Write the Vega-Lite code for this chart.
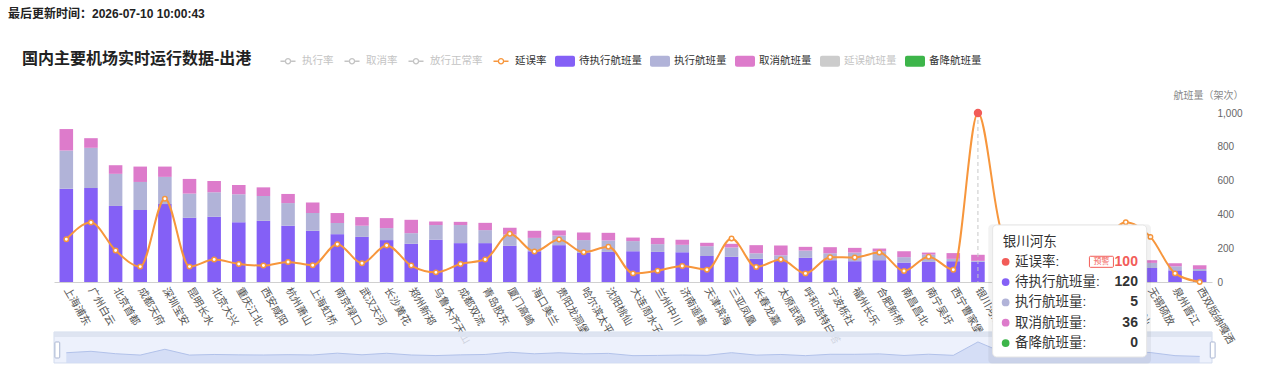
{
  "$schema": "https://vega.github.io/schema/vega-lite/v6.json",
  "background": "white",
  "padding": {"left": 8, "top": 8, "right": 0, "bottom": 0},
  "title": {"text": "最后更新时间：2026-07-10 10:00:43", "anchor": "start", "frame": "bounds", "fontSize": 12, "fontWeight": 600, "color": "#222222", "dx": -14, "offset": 30},
  "width": 1158,
  "height": 169,
  "data": {"name": "airports"},
  "datasets": {
    "airports": [
      {"airport": "上海浦东", "pending": 552, "executed": 226, "cancelled": 127, "delay": 25.3},
      {"airport": "广州白云", "pending": 556, "executed": 238, "cancelled": 57, "delay": 35.2},
      {"airport": "北京首都", "pending": 450, "executed": 190, "cancelled": 51, "delay": 18.6},
      {"airport": "成都天府", "pending": 426, "executed": 166, "cancelled": 91, "delay": 9.1},
      {"airport": "深圳宝安", "pending": 461, "executed": 161, "cancelled": 61, "delay": 49.3},
      {"airport": "昆明长水", "pending": 380, "executed": 143, "cancelled": 87, "delay": 9.1},
      {"airport": "北京大兴", "pending": 386, "executed": 145, "cancelled": 67, "delay": 13.3},
      {"airport": "重庆江北", "pending": 354, "executed": 165, "cancelled": 55, "delay": 10.7},
      {"airport": "西安咸阳", "pending": 362, "executed": 147, "cancelled": 51, "delay": 9.7},
      {"airport": "杭州萧山", "pending": 333, "executed": 134, "cancelled": 54, "delay": 11.9},
      {"airport": "上海虹桥", "pending": 303, "executed": 105, "cancelled": 63, "delay": 9.9},
      {"airport": "南京禄口", "pending": 283, "executed": 66, "cancelled": 59, "delay": 22.4},
      {"airport": "武汉天河", "pending": 267, "executed": 66, "cancelled": 51, "delay": 11.1},
      {"airport": "长沙黄花", "pending": 248, "executed": 71, "cancelled": 59, "delay": 21.6},
      {"airport": "郑州新郑", "pending": 226, "executed": 63, "cancelled": 79, "delay": 9.7},
      {"airport": "乌鲁木齐天山", "pending": 250, "executed": 87, "cancelled": 21, "delay": 5.7},
      {"airport": "成都双流", "pending": 230, "executed": 107, "cancelled": 19, "delay": 10.7},
      {"airport": "青岛胶东", "pending": 230, "executed": 77, "cancelled": 43, "delay": 13.3},
      {"airport": "厦门高崎", "pending": 214, "executed": 67, "cancelled": 40, "delay": 28.5},
      {"airport": "海口美兰", "pending": 182, "executed": 79, "cancelled": 42, "delay": 18.0},
      {"airport": "贵阳龙洞堡", "pending": 218, "executed": 57, "cancelled": 30, "delay": 25.1},
      {"airport": "哈尔滨太平", "pending": 172, "executed": 76, "cancelled": 45, "delay": 17.6},
      {"airport": "沈阳桃仙", "pending": 178, "executed": 68, "cancelled": 45, "delay": 20.8},
      {"airport": "大连周水子", "pending": 182, "executed": 60, "cancelled": 21, "delay": 5.1},
      {"airport": "兰州中川", "pending": 178, "executed": 46, "cancelled": 37, "delay": 6.7},
      {"airport": "济南遥墙", "pending": 176, "executed": 44, "cancelled": 30, "delay": 9.5},
      {"airport": "天津滨海", "pending": 154, "executed": 58, "cancelled": 20, "delay": 7.3},
      {"airport": "三亚凤凰", "pending": 149, "executed": 55, "cancelled": 22, "delay": 25.7},
      {"airport": "长春龙嘉", "pending": 137, "executed": 33, "cancelled": 48, "delay": 8.9},
      {"airport": "太原武宿", "pending": 129, "executed": 29, "cancelled": 58, "delay": 13.3},
      {"airport": "呼和浩特白塔", "pending": 143, "executed": 43, "cancelled": 22, "delay": 5.1},
      {"airport": "宁波栎社", "pending": 129, "executed": 41, "cancelled": 36, "delay": 14.7},
      {"airport": "福州长乐", "pending": 123, "executed": 51, "cancelled": 28, "delay": 14.5},
      {"airport": "合肥新桥", "pending": 129, "executed": 53, "cancelled": 16, "delay": 17.4},
      {"airport": "南昌昌北", "pending": 115, "executed": 32, "cancelled": 35, "delay": 6.5},
      {"airport": "南宁吴圩", "pending": 119, "executed": 43, "cancelled": 12, "delay": 15.0},
      {"airport": "西宁曹家堡", "pending": 123, "executed": 14, "cancelled": 34, "delay": 7.3},
      {"airport": "银川河东", "pending": 120, "executed": 5, "cancelled": 36, "delay": 100, "diverted": 0},
      {"airport": "温州龙湾", "pending": 112, "executed": 24, "cancelled": 18, "delay": 28},
      {"airport": "珠海金湾", "pending": 106, "executed": 22, "cancelled": 20, "delay": 15},
      {"airport": "石家庄正定", "pending": 102, "executed": 26, "cancelled": 14, "delay": 10},
      {"airport": "烟台蓬莱", "pending": 98, "executed": 20, "cancelled": 18, "delay": 14},
      {"airport": "桂林两江", "pending": 92, "executed": 22, "cancelled": 14, "delay": 22},
      {"airport": "揭阳潮汕", "pending": 88, "executed": 24, "cancelled": 16, "delay": 35.4},
      {"airport": "无锡硕放", "pending": 83, "executed": 30, "cancelled": 16, "delay": 26.7},
      {"airport": "泉州晋江", "pending": 69, "executed": 24, "cancelled": 18, "delay": 5.1},
      {"airport": "西双版纳嘎洒", "pending": 65, "executed": 12, "cancelled": 22, "delay": 0}
    ]
  },
  "layer": [
    {
      "transform": [
        {"fold": ["pending", "executed", "cancelled"], "as": ["key", "count"]},
        {"calculate": "{'pending': '待执行航班量', 'executed': '执行航班量', 'cancelled': '取消航班量'}[datum.key]", "as": "type"},
        {"calculate": "indexof(['pending', 'executed', 'cancelled'], datum.key)", "as": "ord"}
      ],
      "mark": {"type": "bar"},
      "encoding": {
        "x": {
          "field": "airport", "type": "nominal", "sort": null,
          "scale": {"paddingInner": 0.45, "paddingOuter": 0.225},
          "axis": {"title": null, "labelAngle": 60, "labelAlign": "left", "labelBaseline": "middle", "labelPadding": 6, "labelFontSize": 10.5, "labelColor": "#555555", "labelOverlap": false, "labelBound": false, "ticks": false, "domain": true, "domainColor": "#d0d0d0", "grid": false, "zindex": 0}
        },
        "y": {
          "field": "count", "type": "quantitative", "stack": "zero",
          "scale": {"domain": [0, 1000]},
          "axis": {"orient": "right", "values": [0, 200, 400, 600, 800, 1000], "format": ",.0f", "domain": false, "ticks": false, "grid": false, "labelFontSize": 10, "labelColor": "#666666", "labelPadding": 5, "title": "航班量（架次）", "titleAngle": 0, "titleX": -4, "titleY": -18, "titleAlign": "center", "titleBaseline": "middle", "titleFontSize": 10, "titleFontWeight": "normal", "titleColor": "#888888"}
        },
        "color": {
          "field": "type", "type": "nominal",
          "scale": {
            "domain": ["执行率", "取消率", "放行正常率", "延误率", "待执行航班量", "执行航班量", "取消航班量", "延误航班量", "备降航班量"],
            "range": ["#c4c4c4", "#c4c4c4", "#c4c4c4", "#F7963C", "#8460F6", "#B1B3D8", "#DD7BCB", "#cccccc", "#3DB54A"]
          },
          "legend": {
            "orient": "none", "legendX": -32, "legendY": -62,
            "direction": "horizontal", "columns": 9,
            "title": "国内主要机场实时运行数据-出港", "titleOrient": "left", "titleFontSize": 16, "titleFontWeight": "bold", "titleColor": "#222222", "titlePadding": 26, "titleBaseline": "middle", "titleLimit": 400,
            "labelFontSize": 10.5, "labelColor": "#333333", "labelOffset": 4,
            "symbolSize": 400, "columnPadding": 8, "symbolStrokeWidth": 0,
            "symbolType": {"expr": "indexof(['执行率','取消率','放行正常率','延误率'], datum.value) >= 0 ? 'M-0.75,-0.075H-0.33V0.075H-0.75ZM0.33,-0.075H0.75V0.075H0.33ZM-0.33,0A0.33,0.33 0 1,1 0.33,0A0.33,0.33 0 1,1 -0.33,0ZM-0.19,0A0.19,0.19 0 1,0 0.19,0A0.19,0.19 0 1,0 -0.19,0Z' : 'M-0.8,-0.55H0.8A0.2,0.2 0 0 1 1,-0.35V0.35A0.2,0.2 0 0 1 0.8,0.55H-0.8A0.2,0.2 0 0 1 -1,0.35V-0.35A0.2,0.2 0 0 1 -0.8,-0.55Z'"},
            "encode": {
              "labels": {"update": {
                "fill": {"signal": "indexof(['执行率','取消率','放行正常率','延误航班量'], datum.label) >= 0 ? '#c4c4c4' : '#333333'"}
              }}
            }
          }
        },
        "order": {"field": "ord", "type": "quantitative"}
      }
    },
    {
      "transform": [{"filter": "datum.airport == '银川河东'"}],
      "mark": {"type": "rule", "strokeDash": [4, 3], "color": "#c8c8c8", "strokeWidth": 1},
      "encoding": {"x": {"field": "airport", "type": "nominal", "sort": null}}
    },
    {
      "layer": [
        {
          "mark": {"type": "line", "interpolate": "monotone", "color": "#F7963C", "strokeWidth": 2},
          "encoding": {
            "x": {"field": "airport", "type": "nominal", "sort": null},
            "y": {
              "field": "delay", "type": "quantitative", "scale": {"domain": [0, 100]},
              "axis": {"orient": "left", "values": [0, 20, 40, 60, 80, 100], "domain": false, "ticks": false, "grid": false, "labelFontSize": 10, "labelColor": "#666666", "labelPadding": 10, "title": "(%)", "titleAngle": 0, "titleX": 0, "titleY": -18, "titleAlign": "center", "titleBaseline": "middle", "titleFontSize": 10, "titleFontWeight": "normal", "titleColor": "#888888"}
            }
          }
        },
        {
          "transform": [{"filter": "datum.airport != '银川河东'"}],
          "mark": {"type": "point", "shape": "circle", "fill": "white", "stroke": "#F7963C", "strokeWidth": 1.5, "size": 20, "opacity": 1},
          "encoding": {
            "x": {"field": "airport", "type": "nominal", "sort": null},
            "y": {"field": "delay", "type": "quantitative", "axis": null}
          }
        },
        {
          "transform": [{"filter": "datum.airport == '银川河东'"}],
          "mark": {"type": "circle", "color": "#F25C58", "size": 70, "opacity": 1},
          "encoding": {
            "x": {"field": "airport", "type": "nominal", "sort": null},
            "y": {"field": "delay", "type": "quantitative", "axis": null}
          }
        }
      ]
    },
    {
      "layer": [
        {
          "data": {"values": [{}]},
          "mark": {"type": "rect", "fill": "#e9eefb", "fillOpacity": 0.82, "stroke": "#d3dcee", "strokeWidth": 1},
          "encoding": {
            "y": {"datum": 169, "type": "quantitative", "scale": {"domain": [515.2, 1685.6], "zero": false, "nice": false}, "axis": null},
            "y2": {"datum": -45.7}
          }
        },
        {
          "data": {"values": [{}]},
          "mark": {"type": "rect", "fill": "#dbe2f0", "fillOpacity": 0.9},
          "encoding": {
            "y": {"datum": 169, "type": "quantitative"},
            "y2": {"datum": 134.3}
          }
        },
        {
          "mark": {"type": "area", "interpolate": "linear", "fill": "#d2dcf5", "fillOpacity": 0.9, "line": {"stroke": "#b2c2ea", "strokeWidth": 1}},
          "encoding": {
            "x": {"field": "airport", "type": "nominal", "sort": null},
            "y": {"field": "delay", "type": "quantitative"},
            "y2": {"datum": -45.7}
          }
        },
        {
          "transform": [{"filter": "datum.airport == '上海浦东'"}],
          "mark": {"type": "point", "shape": "M-0.3,-0.9A0.1,0.1 0 0 1 -0.2,-1H0.2A0.1,0.1 0 0 1 0.3,-0.9V0.9A0.1,0.1 0 0 1 0.2,1H-0.2A0.1,0.1 0 0 1 -0.3,0.9Z", "size": 256, "fill": "white", "stroke": "#aab6d2", "strokeWidth": 1, "opacity": 1, "xOffset": -9},
          "encoding": {
            "x": {"field": "airport", "type": "nominal", "sort": null},
            "y": {"datum": 44.3, "type": "quantitative"}
          }
        },
        {
          "transform": [{"filter": "datum.airport == '西双版纳嘎洒'"}],
          "mark": {"type": "point", "shape": "M-0.3,-0.9A0.1,0.1 0 0 1 -0.2,-1H0.2A0.1,0.1 0 0 1 0.3,-0.9V0.9A0.1,0.1 0 0 1 0.2,1H-0.2A0.1,0.1 0 0 1 -0.3,0.9Z", "size": 256, "fill": "white", "stroke": "#aab6d2", "strokeWidth": 1, "opacity": 1, "xOffset": 13},
          "encoding": {
            "x": {"field": "airport", "type": "nominal", "sort": null},
            "y": {"datum": 44.3, "type": "quantitative"}
          }
        }
      ]
    },
    {
      "transform": [{"filter": "datum.airport == '银川河东'"}],
      "layer": [
        {
          "mark": {"type": "point", "shape": "M-0.948,-0.857H0.948A0.052,0.052 0 0 1 1,-0.805V0.805A0.052,0.052 0 0 1 0.948,0.857H-0.948A0.052,0.052 0 0 1 -1,0.805V-0.805A0.052,0.052 0 0 1 -0.948,-0.857Z", "size": 26500, "filled": true, "color": "#000000", "opacity": 0.05, "xOffset": 91.7, "yOffset": 3},
          "encoding": {
            "x": {"field": "airport", "type": "nominal", "sort": null},
            "y": {"datum": 2.438, "type": "quantitative", "scale": {"domain": [-6.33, 1.995], "reverse": true, "zero": false, "nice": false}, "axis": null}
          }
        },
        {
          "mark": {"type": "point", "shape": "M-0.948,-0.857H0.948A0.052,0.052 0 0 1 1,-0.805V0.805A0.052,0.052 0 0 1 0.948,0.857H-0.948A0.052,0.052 0 0 1 -1,0.805V-0.805A0.052,0.052 0 0 1 -0.948,-0.857Z", "size": 23716, "fill": "white", "stroke": "#e6e6e6", "strokeWidth": 1, "opacity": 1, "fillOpacity": 1, "xOffset": 91.7},
          "encoding": {
            "x": {"field": "airport", "type": "nominal", "sort": null},
            "y": {"datum": 2.438, "type": "quantitative"}
          }
        },
        {
          "mark": {"type": "text", "align": "left", "baseline": "middle", "fontSize": 13.5, "color": "#333333", "dx": 24.7},
          "encoding": {
            "x": {"field": "airport", "type": "nominal", "sort": null},
            "y": {"datum": 0, "type": "quantitative"},
            "text": {"field": "airport"}
          }
        },
        {
          "transform": [
            {"fold": ["delay", "pending", "executed", "cancelled", "diverted"], "as": ["tkey", "tval"]},
            {"calculate": "indexof(['delay', 'pending', 'executed', 'cancelled', 'diverted'], datum.tkey) + 1", "as": "row"},
            {"calculate": "{'delay': '延误率:', 'pending': '待执行航班量:', 'executed': '执行航班量:', 'cancelled': '取消航班量:', 'diverted': '备降航班量:'}[datum.tkey]", "as": "tlabel"}
          ],
          "layer": [
            {
              "mark": {"type": "circle", "size": 60, "opacity": 1, "xOffset": 27.7},
              "encoding": {
                "x": {"field": "airport", "type": "nominal", "sort": null},
                "y": {"field": "row", "type": "quantitative"},
                "fill": {"field": "tkey", "type": "nominal", "scale": {"domain": ["delay", "pending", "executed", "cancelled", "diverted"], "range": ["#F25C58", "#8460F6", "#B1B3D8", "#DD7BCB", "#3DB54A"]}, "legend": null}
              }
            },
            {
              "mark": {"type": "text", "align": "left", "baseline": "middle", "fontSize": 13.5, "color": "#333333", "dx": 37},
              "encoding": {
                "x": {"field": "airport", "type": "nominal", "sort": null},
                "y": {"field": "row", "type": "quantitative"},
                "text": {"field": "tlabel"}
              }
            },
            {
              "mark": {"type": "text", "align": "right", "baseline": "middle", "fontSize": 14, "fontWeight": "bold", "dx": 160},
              "encoding": {
                "x": {"field": "airport", "type": "nominal", "sort": null},
                "y": {"field": "row", "type": "quantitative"},
                "text": {"field": "tval", "type": "quantitative", "format": "d"},
                "color": {"condition": {"test": "datum.tkey == 'delay'", "value": "#F25C58"}, "value": "#333333"}
              }
            },
            {
              "transform": [{"filter": "datum.tkey == 'delay'"}],
              "mark": {"type": "point", "shape": "M-0.92,-0.46H0.92A0.08,0.08 0 0 1 1,-0.38V0.38A0.08,0.08 0 0 1 0.92,0.46H-0.92A0.08,0.08 0 0 1 -1,0.38V-0.38A0.08,0.08 0 0 1 -0.92,-0.46Z", "size": 576, "fill": "white", "stroke": "#F25C58", "strokeWidth": 1, "opacity": 1, "xOffset": 123.5},
              "encoding": {
                "x": {"field": "airport", "type": "nominal", "sort": null},
                "y": {"field": "row", "type": "quantitative"}
              }
            },
            {
              "transform": [{"filter": "datum.tkey == 'delay'"}],
              "mark": {"type": "text", "align": "center", "baseline": "middle", "fontSize": 8, "color": "#F25C58", "dx": 123.5},
              "encoding": {
                "x": {"field": "airport", "type": "nominal", "sort": null},
                "y": {"field": "row", "type": "quantitative"},
                "text": {"value": "预警"}
              }
            }
          ]
        }
      ]
    }
  ],
  "resolve": {"scale": {"y": "independent"}},
  "config": {
    "font": "Liberation Sans, Noto Sans CJK SC",
    "view": {"stroke": null},
    "axis": {"labelFont": "Liberation Sans, Noto Sans CJK SC", "titleFont": "Liberation Sans, Noto Sans CJK SC"},
    "legend": {"labelFont": "Liberation Sans, Noto Sans CJK SC", "titleFont": "Liberation Sans, Noto Sans CJK SC"},
    "title": {"font": "Liberation Sans, Noto Sans CJK SC"}
  }
}
